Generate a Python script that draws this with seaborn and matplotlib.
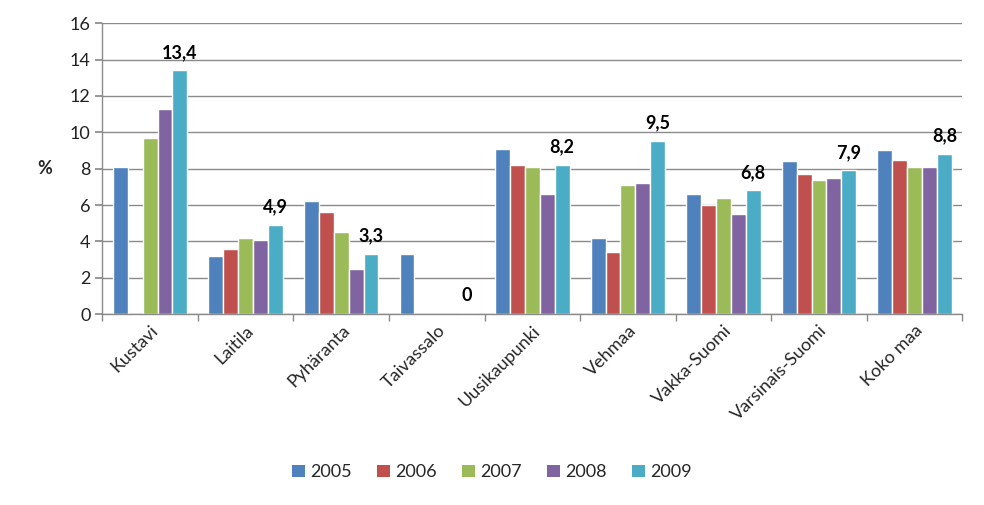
import numpy as np
import pandas as pd
import seaborn as sns
import matplotlib
matplotlib.use("Agg")
import matplotlib.pyplot as plt
from matplotlib.patches import Patch
from matplotlib.ticker import FixedLocator

categories = ["Kustavi", "Laitila", "Pyhäranta", "Taivassalo", "Uusikaupunki",
              "Vehmaa", "Vakka-Suomi", "Varsinais-Suomi", "Koko maa"]
years = ["2005", "2006", "2007", "2008", "2009"]
v2005 = [8.1, 3.2, 6.2, 3.3, 9.1, 4.2, 6.6, 8.4, 9.0]
v2006 = [np.nan, 3.6, 5.6, np.nan, 8.2, 3.4, 6.0, 7.7, 8.5]
v2007 = [9.7, 4.2, 4.5, np.nan, 8.1, 7.1, 6.4, 7.4, 8.1]
v2008 = [11.3, 4.1, 2.5, np.nan, 6.6, 7.2, 5.5, 7.5, 8.1]
v2009 = [13.4, 4.9, 3.3, 0.0, 8.2, 9.5, 6.8, 7.9, 8.8]
colors = ["#4F81BD", "#C0504D", "#9BBB59", "#8064A2", "#4BACC6"]

rows = []
for y, vals in zip(years, [v2005, v2006, v2007, v2008, v2009]):
    for c, v in zip(categories, vals):
        rows.append({"Alue": c, "Vuosi": y, "Arvo": v})
df = pd.DataFrame(rows)

sns.set_theme(style="white")
plt.rcParams["font.family"] = ["Lato", "DejaVu Sans"]

fig = plt.figure(figsize=(9.84, 5.05), dpi=100)
ax = fig.add_axes([0.104, 0.378, 0.874, 0.576])

sns.barplot(data=df, x="Alue", y="Arvo", hue="Vuosi", order=categories,
            hue_order=years, palette=colors, width=0.78, saturation=1,
            errorbar=None, ax=ax, legend=False)

ax.set_ylim(0, 16)
ax.set_xlim(-0.5, len(categories) - 0.5)
ax.set_yticks(range(0, 17, 2))
ax.yaxis.grid(True, color="#8a8a8a", linewidth=1)
ax.set_axisbelow(True)
for s in ["top", "right"]:
    ax.spines[s].set_visible(False)
for s in ["left", "bottom"]:
    ax.spines[s].set_color("#8a8a8a")
    ax.spines[s].set_linewidth(1)

ax.set_xlabel("")
ax.set_ylabel("%", rotation=0, fontsize=13, fontweight="bold", labelpad=18, va="center")
ax.tick_params(axis="y", length=5, color="#8a8a8a", labelsize=13, labelcolor="#222222", direction="out", left=True)
ax.tick_params(axis="x", which="major", length=0, labelsize=13, pad=6, bottom=True)
ax.xaxis.set_minor_locator(FixedLocator(np.arange(-0.5, len(categories), 1.0)))
ax.tick_params(axis="x", which="minor", length=5, color="#8a8a8a", direction="out", bottom=True)
for lbl in ax.get_xticklabels():
    lbl.set_rotation(45)
    lbl.set_ha("right")
    lbl.set_rotation_mode("anchor")

last = ax.containers[-1]
ax.bar_label(last, labels=[("%.1f" % v).replace(".", ",") if v != 0 else "0" for v in v2009],
             padding=7, fontsize=13, fontweight="bold", color="black")

handles = [Patch(facecolor=c, edgecolor="none") for c in colors]
fig.legend(handles, years, loc="center", bbox_to_anchor=(0.5, 0.065), ncol=5,
           frameon=False, fontsize=13, handlelength=0.7, handleheight=0.7,
           handletextpad=0.3, columnspacing=1.4)

fig.savefig("out.png", dpi=100)
